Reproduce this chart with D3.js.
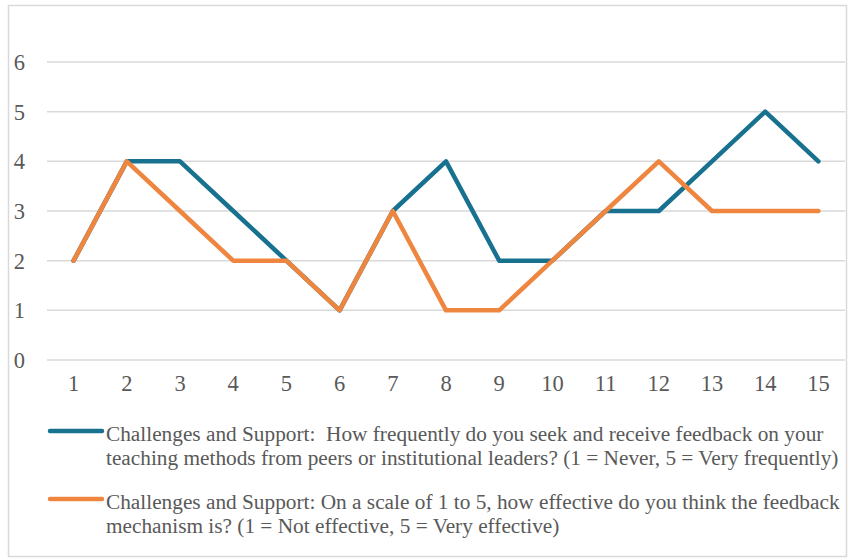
<!DOCTYPE html>
<html>
<head>
<meta charset="utf-8">
<script src="https://cdn.jsdelivr.net/npm/d3@7"></script>
<style>
  html, body { margin: 0; padding: 0; background: #fff; }
  svg { display: block; }
  text { white-space: pre; }
</style>
</head>
<body>
<svg id="chart" width="849" height="559"></svg>
<script>
// Respondent numbers along the x axis
const respondents = [1, 2, 3, 4, 5, 6, 7, 8, 9, 10, 11, 12, 13, 14, 15];
// How frequently feedback is sought and received (1 = Never, 5 = Very frequently)
const feedbackFrequency = [2, 4, 4, 3, 2, 1, 3, 4, 2, 2, 3, 3, 4, 5, 4];
// Perceived effectiveness of the feedback mechanism (1 = Not effective, 5 = Very effective)
const feedbackEffectiveness = [2, 4, 3, 2, 2, 1, 3, 1, 1, 2, 3, 4, 3, 3, 3];
// Value axis ticks
const yTicks = [0, 1, 2, 3, 4, 5, 6];

const seriesNames = [
  ["Challenges and Support:  How frequently do you seek and receive feedback on your",
   "teaching methods from peers or institutional leaders? (1 = Never, 5 = Very frequently)"],
  ["Challenges and Support: On a scale of 1 to 5, how effective do you think the feedback",
   "mechanism is? (1 = Not effective, 5 = Very effective)"]
];
const seriesColors = ["#17718f", "#ee8640"];
const series = [feedbackFrequency, feedbackEffectiveness];

const svg = d3.select("#chart");
const font = "'Liberation Serif', 'Times New Roman', serif";
const textColor = "#595959";

// Chart frame
svg.append("rect")
  .attr("x", 8.5).attr("y", 5.5)
  .attr("width", 838).attr("height", 551)
  .attr("fill", "#fff")
  .attr("stroke", "#d9d9d9").attr("stroke-width", 1.5);

const x = d3.scaleBand().domain(respondents).range([47, 845]);
const y = d3.scaleLinear().domain([0, 6]).range([360, 62]);

// Horizontal gridlines
svg.append("g").selectAll("line")
  .data(yTicks)
  .join("line")
  .attr("x1", 47).attr("x2", 845)
  .attr("y1", d => y(d)).attr("y2", d => y(d))
  .attr("stroke", "#d9d9d9").attr("stroke-width", 1.5);

// Y axis labels
const yAxis = svg.append("g")
  .attr("transform", "translate(25,0)")
  .call(d3.axisLeft(y).tickValues(yTicks).tickFormat(d3.format("d")).tickSize(0).tickPadding(0));
yAxis.select(".domain").remove();
yAxis.selectAll("text")
  .attr("font-family", font).attr("font-size", 22.5).attr("fill", textColor)
  .attr("dy", "0.33em");

// X axis labels
const xAxis = svg.append("g")
  .attr("transform", "translate(0,375)")
  .call(d3.axisBottom(x).tickSize(0).tickPadding(0));
xAxis.select(".domain").remove();
xAxis.selectAll("text")
  .attr("font-family", font).attr("font-size", 22.5).attr("fill", textColor)
  .attr("dy", "0.71em");

// Lines
const line = d3.line()
  .x((d, i) => x(respondents[i]) + x.bandwidth() / 2)
  .y(d => y(d));

svg.append("g").selectAll("path")
  .data(series)
  .join("path")
  .attr("d", line)
  .attr("fill", "none")
  .attr("stroke", (d, i) => seriesColors[i])
  .attr("stroke-width", 4.5)
  .attr("stroke-linejoin", "round")
  .attr("stroke-linecap", "round");

// Legend
const legendTop = [431, 499];
const legend = svg.append("g");
seriesNames.forEach((lines, i) => {
  const g = legend.append("g").attr("transform", `translate(0,${legendTop[i]})`);
  g.append("line")
    .attr("x1", 50).attr("x2", 102).attr("y1", 0).attr("y2", 0)
    .attr("stroke", seriesColors[i]).attr("stroke-width", 4.5)
    .attr("stroke-linecap", "round");
  const t = g.append("text")
    .attr("font-family", font).attr("font-size", 21.3).attr("fill", textColor);
  lines.forEach((s, j) => {
    t.append("tspan").attr("x", 106).attr("y", 10 + j * 24).text(s);
  });
});
</script>
</body>
</html>
